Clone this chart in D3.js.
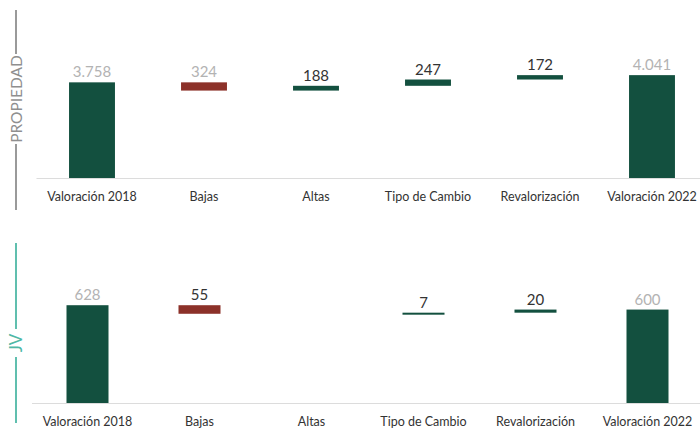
<!DOCTYPE html>
<html>
<head>
<meta charset="utf-8">
<script src="https://cdn.jsdelivr.net/npm/d3@7"></script>
<style>
    body { margin: 0; background: #ffffff; }
    svg { display: block; font-family: Lato, "Open Sans", sans-serif; }
</style>
</head>
<body>
<div id="chart"></div>
<script>
const categories = ["Valoración 2018", "Bajas", "Altas", "Tipo de Cambio", "Revalorización", "Valoración 2022"];
const totalCategories = ["Valoración 2018", "Valoración 2022"];
const propiedadValues = [3758, -324, 188, 247, 172, 4041];
const jvValues = [628, -55, 0, 7, 20, 600];

const colors = {
    total: "#13503f",
    up: "#13503f",
    down: "#8c3129",
    muted: "#b3b3b3",
    label: "#333333",
    axis: "#dcdcdc"
};

const esLocale = d3.formatLocale({ decimal: ",", thousands: ".", grouping: [3], currency: ["", " €"] });
const fmt = esLocale.format(",d");

/**
 * Turns a list of deltas into waterfall steps (start/end per category).
 */
function buildSteps(values) {
    let running = 0;
    return categories.map((cat, i) => {
        const v = values[i];
        if (totalCategories.includes(cat)) {
            running = v;
            return { cat, value: v, start: 0, end: v, kind: "total" };
        }
        const start = running;
        running += v;
        return { cat, value: v, start, end: running, kind: v < 0 ? "down" : "up" };
    });
}

function renderPanel(svg, values, opts) {
    const steps = buildSteps(values);

    const x = d3.scaleBand()
        .domain(categories)
        .range(opts.xRange)
        .paddingInner(opts.padding)
        .paddingOuter(opts.padding / 2);

    const y = d3.scaleLinear()
        .domain(opts.yDomain)
        .range([opts.baseline, opts.top]);

    const g = svg.append("g");

    const axis = g.append("g")
        .attr("transform", "translate(0," + opts.baseline + ")")
        .call(d3.axisBottom(x).tickSize(0).tickPadding(14));
    axis.select(".domain").attr("stroke", colors.axis).attr("stroke-width", 1.2);
    axis.selectAll("text")
        .style("font-size", "12.5px")
        .style("font-family", "Lato, sans-serif")
        .attr("fill", "#333333");

    const bars = steps.filter(d => d.value !== 0);

    g.selectAll("rect.bar")
        .data(bars)
        .enter().append("rect")
        .attr("class", "bar")
        .attr("x", d => x(d.cat))
        .attr("width", x.bandwidth())
        .attr("y", d => y(Math.max(d.start, d.end)))
        .attr("height", d => Math.max(2, Math.abs(y(d.start) - y(d.end))))
        .attr("fill", d => colors[d.kind]);

    g.selectAll("text.value")
        .data(bars)
        .enter().append("text")
        .attr("class", "value")
        .attr("x", d => x(d.cat) + x.bandwidth() / 2)
        .attr("y", d => y(Math.max(d.start, d.end)) - 5)
        .attr("text-anchor", "middle")
        .style("font-size", "15px")
        .attr("fill", d => opts.mutedLabels.includes(d.cat) ? colors.muted : colors.label)
        .text(d => fmt(Math.abs(d.value)));

    // side title with rule lines
    const side = svg.append("g").attr("stroke", opts.sideColor).attr("stroke-width", 1.8);
    opts.sideLines.forEach(l => {
        side.append("line")
            .attr("x1", 16).attr("x2", 16)
            .attr("y1", l[0]).attr("y2", l[1]);
    });

    svg.append("text")
        .attr("transform", "translate(" + 21.5 + "," + opts.sideY + ") rotate(-90)")
        .attr("text-anchor", "middle")
        .style("font-size", opts.sideSize + "px")
        .attr("fill", opts.sideColor)
        .text(opts.sideTitle);
}

const svg = d3.select("#chart").append("svg")
    .attr("width", 700)
    .attr("height", 430);

renderPanel(svg, propiedadValues, {
    xRange: [36, 708],
    padding: 0.59,
    baseline: 178,
    top: 66,
    yDomain: [0, 4400],
    mutedLabels: ["Valoración 2018", "Bajas", "Valoración 2022"],
    sideTitle: "PROPIEDAD",
    sideColor: "#8f8f8f",
    sideSize: 15.5,
    sideY: 99,
    sideLines: [[10, 54], [144, 210]]
});

renderPanel(svg, jvValues, {
    xRange: [31.5, 703.5],
    padding: 0.625,
    baseline: 403,
    top: 294,
    yDomain: [0, 700],
    mutedLabels: ["Valoración 2018", "Valoración 2022"],
    sideTitle: "JV",
    sideColor: "#4fb8a6",
    sideSize: 17,
    sideY: 343,
    sideLines: [[243, 329], [357, 423]]
});
</script>
</body>
</html>
